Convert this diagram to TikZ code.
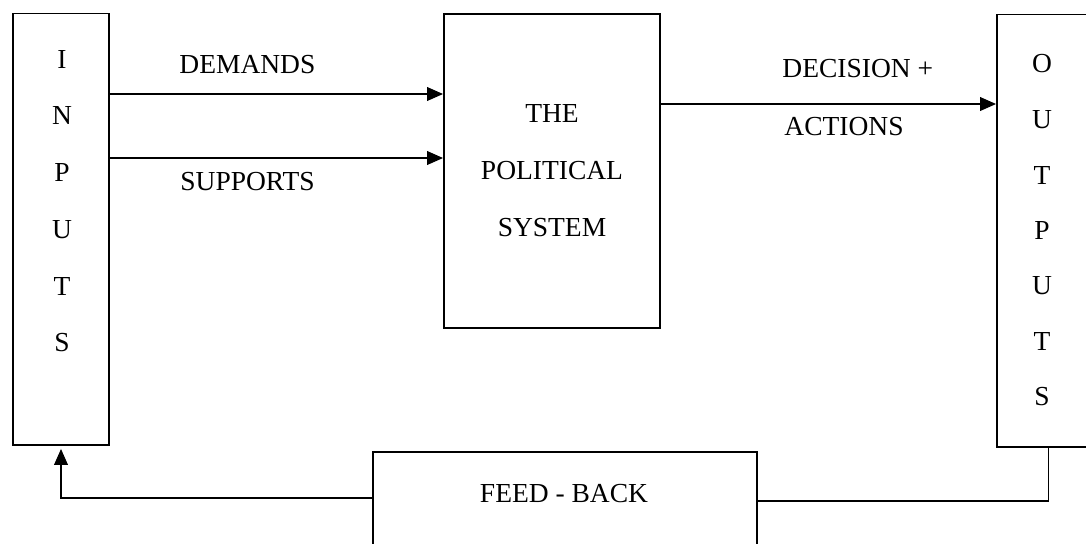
\documentclass[tikz,border=0pt]{standalone}
\usepackage{fontspec}
\setmainfont{Liberation Serif}
\usetikzlibrary{arrows.meta}
\tikzset{
  box/.style={draw, line width=0.9pt, rectangle, inner sep=0pt},
  lbl/.style={inner sep=0pt, font=\fontsize{13.75}{28.5}\selectfont},
  arr/.style={line width=0.9pt, -{Triangle[length=8pt,width=6.8pt]}},
  wire/.style={line width=0.9pt}
}
\begin{document}
\begin{tikzpicture}[x=0.5pt,y=-0.5pt]
\clip (0,0) rectangle (1086,543);
\fill[white] (0,0) rectangle (1086,543);

% main blocks
\node[box, minimum width=48pt, minimum height=215.75pt] (inputs) at (61,229.25) {};
\node[box, minimum width=108pt, minimum height=157pt, lbl, align=center] (system) at (552,171)
  {THE\\POLITICAL\\SYSTEM};
\node[box, minimum width=51.5pt, minimum height=216.25pt] (outputs) at (1048.5,230.75) {};
\node[box, minimum width=192pt, minimum height=84pt] (feedback) at (565,536) {};

% stacked letters
\foreach \c [count=\i] in {I,N,P,U,T,S}
  \node[lbl] (in\i) at (62,{59+56.8*(\i-1)}) {\c};
\foreach \c [count=\i] in {O,U,T,P,U,T,S}
  \node[lbl] (out\i) at (1042,{64+55.5*(\i-1)}) {\c};
\node[lbl] (fbtext) at (564,494) {FEED - BACK};

% connector labels
\node[lbl, anchor=west] (ldem) at (179,65) {DEMANDS};
\node[lbl, anchor=west] (lsup) at (180,182) {SUPPORTS};
\node[lbl, anchor=west] (ldec) at (782,69) {DECISION +};
\node[lbl, anchor=west] (lact) at (784,127) {ACTIONS};

% connector heights
\coordinate (ydem) at (0,94);
\coordinate (ysup) at (0,158);
\coordinate (ydec) at (0,104);
\coordinate (yfbl) at (0,498);
\coordinate (yfbr) at (0,501);

\draw[arr] (inputs.east |- ydem) -- (system.west |- ydem);
\draw[arr] (inputs.east |- ysup) -- (system.west |- ysup);
\draw[arr] (system.east |- ydec) -- (outputs.west |- ydec);
\draw[arr] (feedback.west |- yfbl) -| ([yshift=-1.5pt]inputs.south);
\draw[wire] (feedback.east |- yfbr) -| (outputs.south);
\end{tikzpicture}
\end{document}
